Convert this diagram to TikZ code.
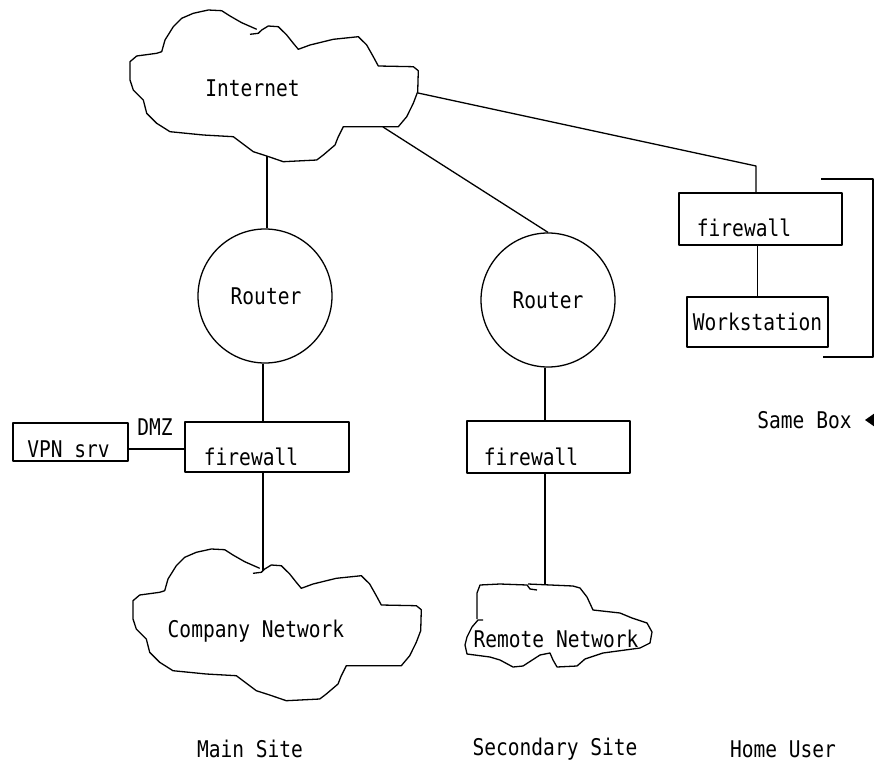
\documentclass[tikz,border=0pt]{standalone}
\usepackage{fontspec}
\newfontfamily\diagfont{DejaVu Sans Mono}[FakeStretch=0.85]
\begin{document}
\begin{tikzpicture}[x=1pt,y=-1pt,line width=1.3pt,line join=round,
  lbl/.style={font=\diagfont\fontsize{23}{23}\selectfont,inner sep=0pt,anchor=center},
  boxnode/.style={draw,rectangle,inner sep=0pt,line width=1.3pt},
  rtr/.style={draw,circle,minimum size=134pt,inner sep=0pt,line width=1.3pt},
  wire/.style={line width=1.3pt}]
\useasboundingbox (0,0) rectangle (874,765);

% clouds: Internet and Company Network (same outline)
\foreach \dx/\dy in {0/0,3/539}{
\begin{scope}[shift={(\dx,\dy)}]
\draw (250,34.3) -- (258.3,33.3) -- (261.7,30) -- (268.3,26) -- (278.3,26.7) -- (286.7,35) -- (293.3,43.3) -- (298.3,49.3) -- (310,45) -- (333.3,39.3) -- (358.3,36.7) -- (366.7,45) -- (373.3,56.7) -- (378.3,66) -- (413.3,66.7) -- (418.3,70.7) -- (417.7,91.7) -- (413.3,103.3) -- (406.7,116.7) -- (398.3,126.7) -- (343.3,126.7) -- (338.3,136.7) -- (335,145) -- (323.3,155) -- (316.7,160) -- (283.3,161.7) -- (266.7,156) -- (253.3,151.7) -- (233.3,136.7) -- (203.3,135) -- (170,131.7) -- (156.7,123.3) -- (146.7,113.3) -- (143.3,100) -- (133.3,90) -- (130,80) -- (130,61.7) -- (136.7,56) -- (156.7,53.3) -- (161.7,51.7) -- (165,40) -- (173.3,26.7) -- (181.7,18.3) -- (193.3,13.3) -- (208.3,10) -- (221.7,10.7) -- (230,16) -- (241.7,22.7) -- (256.7,29.3);
\end{scope}}
\coordinate (inetB) at (267,156);
\coordinate (inetR2) at (383,127);
\coordinate (inetR) at (418,93);
\coordinate (compT) at (263,571);
\node[lbl] (inet) at (252.5,88) {Internet};
\node[lbl] (comp) at (256,631) {Company Network};

% Remote Network cloud
\draw (477,619) -- (477,593) -- (480,585) -- (500,584) -- (527,585) -- (530,589) -- (537,590);
\draw (528,584) -- (573,586) -- (580,588) -- (587,597) -- (593,610) -- (620,613) -- (632,618) -- (647,623) -- (652,632) -- (650,643) -- (640,648) -- (603,653) -- (585,659) -- (577,666) -- (557,667) -- (553,660) -- (550,653) -- (540,655) -- (523,666) -- (513,667) -- (500,660) -- (490,657) -- (467,654) -- (465,645) -- (467,637) -- (472,627) -- (478,620) -- (483,620);
\coordinate (remT) at (545,585);
\node[lbl] (rem) at (556,639) {Remote Network};

% routers
\node[rtr] (r1) at (265,296) {};
\node[lbl] (r1t) at (266,296) {Router};
\node[rtr] (r2) at (548,300) {};
\node[lbl] (r2t) at (548,300) {Router};

% boxes
\node[boxnode,minimum width=164pt,minimum height=50pt] (fw1) at (267,447) {};
\node[lbl] (fw1t) at (251,457) {firewall};
\node[boxnode,minimum width=115pt,minimum height=38pt] (vpn) at (70.5,442) {};
\node[lbl] (vpnt) at (68.5,449) {VPN srv};
\node[lbl] (dmz) at (155,427) {DMZ};
\node[boxnode,minimum width=163pt,minimum height=52pt] (fw2) at (548.5,447) {};
\node[lbl] (fw2t) at (531,457) {firewall};
\node[boxnode,minimum width=163pt,minimum height=52pt] (hfw) at (760.5,219) {};
\node[lbl] (hfwt) at (744,228) {firewall};
\node[boxnode,minimum width=141pt,minimum height=50pt,lbl,draw] (ws) at (757.5,322) {Workstation};

% connectors
\draw[wire] (inetB) -- (inetB |- r1.north);
\draw[wire] ([xshift=-2pt]r1.south) coordinate (r1s) -- (r1s |- fw1.north);
\draw[wire] (r1s |- fw1.south) -- (compT);
\draw[wire] ([yshift=-7pt]vpn.east) coordinate (vpne) -- (vpne -| fw1.west);
\draw[wire] (inetR2) -- (r2.north);
\draw[wire] ([xshift=-3pt]r2.south) coordinate (r2s) -- (r2s |- fw2.north);
\draw[wire] (r2s |- fw2.south) -- (remT);
\coordinate (hbend) at (756,166);
\draw[wire] (inetR) -- (hbend) -- (hbend |- hfw.north);
\draw[wire] (ws.north |- hfw.south) -- (ws.north);

% bracket
\coordinate (bt) at (821,179);
\coordinate (bb) at (823,357);
\draw[wire] (bt) -- (873,179) -- (873,357) -- (bb);
\draw[wire] (873,259) -- (877,259);

% Same Box
\node[lbl] (same) at (804.5,420) {Same Box};
\fill (865,420) -- (875,413) -- (875,427) -- cycle;

% site labels
\node[lbl] (main) at (250,749) {Main Site};
\node[lbl] (sec) at (555,749) {Secondary Site};
\node[lbl] (home) at (783,749) {Home User};
\end{tikzpicture}
\end{document}
